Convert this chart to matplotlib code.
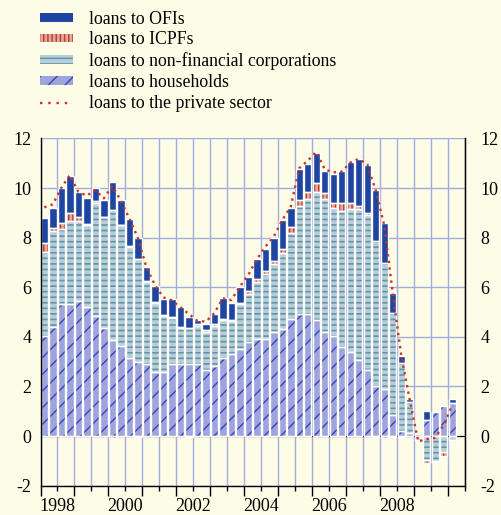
import numpy as np
import matplotlib
matplotlib.use("Agg")
import matplotlib.pyplot as plt
from matplotlib.patches import Patch
from matplotlib.lines import Line2D

# ---------------- data (annual % changes, quarterly, 1998Q1 - 2010Q1) ----------------
periods = [f"{y}Q{q}" for y in range(1998, 2011) for q in range(1, 5)][:49]

households = [4.03, 4.41, 5.31, 5.31, 5.44, 5.21, 4.84, 4.34, 3.87, 3.63, 3.16, 3.00,
              2.92, 2.58, 2.58, 2.90, 2.90, 2.90, 2.90, 2.66, 2.82, 3.13, 3.29, 3.51,
              3.80, 3.92, 3.92, 4.18, 4.32, 4.73, 4.91, 4.91, 4.66, 4.18, 4.02, 3.60,
              3.37, 3.06, 2.67, 2.03, 1.88, 0.84, 0.22, 0.14, 0.10, 0.65, 0.98, 1.22, 1.32]
nfc = [3.40, 3.86, 3.02, 3.36, 3.23, 3.28, 4.57, 4.48, 5.24, 4.86, 4.47, 4.14,
       3.28, 2.77, 2.26, 1.84, 1.44, 1.44, 1.55, 1.55, 1.63, 1.55, 1.35, 1.80,
       1.91, 2.28, 2.60, 2.76, 3.05, 3.44, 4.38, 4.65, 5.19, 5.38, 5.19, 5.47,
       5.78, 6.09, 6.26, 5.84, 5.11, 4.11, 2.74, 1.22, -0.10, -0.95, -1.00, -0.63, -0.15]
icpf = [0.34, 0.10, 0.25, 0.31, 0.15, 0.05, 0.07, 0.03, -0.10, 0.03, 0.03, -0.05,
        0.05, 0.05, 0.04, 0.05, 0.05, -0.05, 0.05, 0.05, 0.05, 0.05, 0.05, 0.05,
        0.12, 0.13, 0.13, 0.13, 0.16, 0.24, 0.23, 0.29, 0.34, 0.22, 0.17, 0.31,
        0.23, 0.14, 0.05, -0.05, -0.07, -0.05, -0.05, 0.00, -0.05, -0.12, -0.05, -0.18, -0.03]
ofi = [1.03, 0.81, 1.41, 1.50, 1.01, 1.04, 0.51, 0.67, 1.12, 1.00, 1.08, 0.86,
       0.57, 0.66, 0.64, 0.72, 0.82, 0.47, 0.18, 0.24, 0.41, 0.82, 0.69, 0.66,
       0.59, 0.79, 0.88, 0.93, 1.18, 0.77, 1.25, 1.11, 1.23, 0.92, 1.17, 1.32,
       1.66, 1.88, 1.95, 2.05, 1.59, 0.83, 0.28, 0.12, 0.00, 0.37, 0.00, 0.00, 0.17]
private_sector = [9.22, 9.34, 10.00, 10.52, 9.85, 9.69, 9.92, 9.58, 10.08, 9.50, 8.78, 8.00,
                  6.82, 6.10, 5.59, 5.47, 5.20, 4.92, 4.65, 4.61, 4.95, 5.55, 5.48, 6.02,
                  6.49, 7.12, 7.63, 8.04, 8.71, 9.25, 10.80, 11.10, 11.46, 10.75, 10.63, 10.66,
                  11.02, 11.17, 10.95, 9.90, 8.50, 5.75, 3.25, 1.45, -0.22, -0.13, -0.07, 0.45, 1.25]

year_labels = ["1998", "", "2000", "", "2002", "", "2004", "", "2006", "", "2008", "", ""]
y_ticks = [-2, 0, 2, 4, 6, 8, 10, 12]

# ---------------- style ----------------
BG = "#fdfde7"
GRID = "#a3abdd"
plt.rcParams["font.family"] = ["Liberation Serif", "DejaVu Serif"]
plt.rcParams["axes.unicode_minus"] = False

fig = plt.figure(figsize=(5.01, 5.15), dpi=100, facecolor=BG)
L, R, T, B = 41.3, 465.0, 138.4, 485.6
ax = fig.add_axes([L / 501, 1 - B / 515, (R - L) / 501, (B - T) / 515])
ax.set_facecolor(BG)

x = np.arange(len(periods))
n = len(periods)

series = [
    ("loans to households", households, "#9fa5dc", "#3447b0", "//", 1.0),
    ("loans to non-financial corporations", nfc, "#b9cdd7", "#5f96aa", "---", 1.2),
    ("loans to ICPFs", icpf, "#e2a89c", "#c0392b", "||||", 1.0),
    ("loans to OFIs", ofi, "#1d45a1", "#1d45a1", None, 1.0),
]

pos = np.zeros(n)
neg = np.zeros(n)
W = 0.88
for label, vals, fc, hc, hatch, hlw in series:
    v = np.asarray(vals, dtype=float)
    bottom = np.where(v >= 0, pos, neg)
    with plt.rc_context({"hatch.linewidth": hlw}):
        ax.bar(x, v, bottom=bottom, width=W, facecolor=fc, edgecolor=hc,
               linewidth=0, hatch=hatch, zorder=2)
    ax.bar(x, v, bottom=bottom, width=W, facecolor="none", edgecolor="white",
           linewidth=np.where(v != 0, 1.0, 0.0), zorder=2.5)
    pos = pos + np.where(v > 0, v, 0)
    neg = neg + np.where(v < 0, v, 0)

ax.plot(x, private_sector, color="#cc3322", lw=1.7, linestyle=(0, (1, 1.8)), zorder=3)
ax.axhline(0, color="black", lw=0.8, zorder=1.5)

# axes
ax.set_xlim(-0.35, 49.5)
ax.set_ylim(-2, 12)
ax.set_yticks(y_ticks)
ax.set_yticklabels([str(t) for t in y_ticks])
ax.tick_params(axis="y", length=0, pad=7, labelsize=13)

major = [-0.35] + [3.5 + 4 * k for k in range(12)]
minor = [1.5 + 4 * k for k in range(13)]
ax.set_xticks(major)
ax.set_xticklabels([""] * len(major))
ax.set_xticks(minor, minor=True)
ax.set_xticklabels(year_labels, minor=True)
ax.tick_params(axis="x", which="major", length=7, width=1, color="black", direction="out")
ax.tick_params(axis="x", which="minor", length=3.4, width=1, color="black",
               direction="out", pad=5.5, labelsize=13)

ax.set_axisbelow(True)
ax.grid(True, axis="y", color=GRID, lw=1)
ax.grid(True, axis="x", which="both", color=GRID, lw=1)
ax.spines["top"].set_visible(False)
for s in ["left", "right", "bottom"]:
    ax.spines[s].set_color("black")
    ax.spines[s].set_linewidth(1)

ax2 = ax.twinx()
ax2.set_ylim(-2, 12)
ax2.set_yticks(y_ticks)
ax2.set_yticklabels([str(t) for t in y_ticks])
ax2.tick_params(axis="y", length=0, pad=11, labelsize=13)
for s in ["top", "left", "bottom"]:
    ax2.spines[s].set_visible(False)
ax2.spines["right"].set_color("black")

# legend
handles = [
    Patch(facecolor="#1d45a1", edgecolor="#1d45a1", linewidth=0),
    Patch(facecolor="#e2a89c", edgecolor="#c0392b", linewidth=0, hatch="||||"),
    Patch(facecolor="#b9cdd7", edgecolor="#5f96aa", linewidth=0, hatch="---"),
    Patch(facecolor="#9fa5dc", edgecolor="#3447b0", linewidth=0, hatch="//"),
    Line2D([], [], color="#cc3322", lw=1.7, linestyle=(0, (1, 2.5))),
]
labels = ["loans to OFIs", "loans to ICPFs", "loans to non-financial corporations",
          "loans to households", "loans to the private sector"]
fig.legend(handles, labels, loc="upper left", bbox_to_anchor=(40 / 501, 1 - 10.5 / 515),
           frameon=False, fontsize=12.8, handlelength=1.85, handleheight=0.38,
           handletextpad=0.9, labelspacing=0.22, borderaxespad=0, borderpad=0)

fig.savefig("out.png", dpi=100, facecolor=BG)
